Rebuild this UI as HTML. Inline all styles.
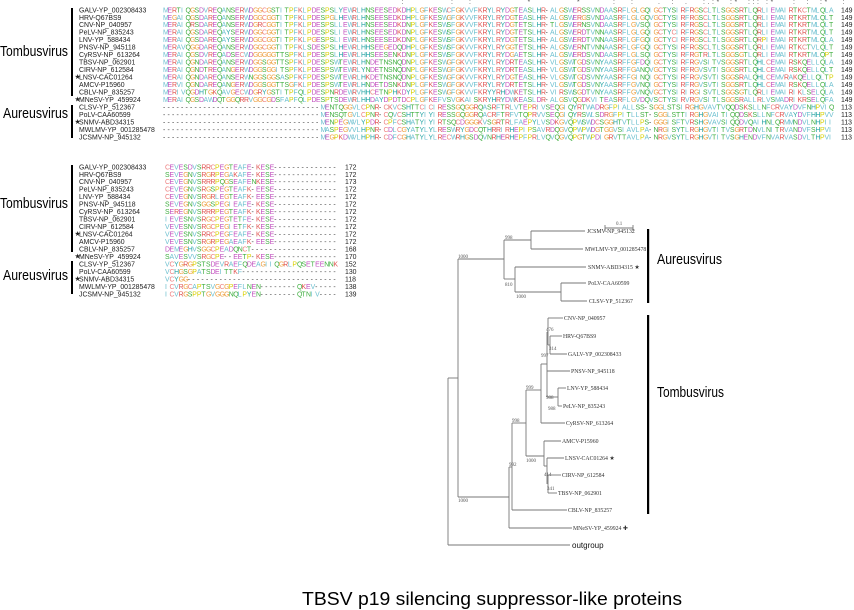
<!DOCTYPE html>
<html><head><meta charset="utf-8">
<style>
html,body{margin:0;padding:0;background:#fff;}
svg{display:block}
.nm{font-family:"Liberation Sans",sans-serif;font-size:6.9px;fill:#222}
.sq{font-family:"Liberation Sans",sans-serif;font-size:6.9px}
.grp{font-family:"Liberation Sans",sans-serif;font-size:15px;fill:#000}
.tl{font-family:"Liberation Serif",serif;font-size:5.8px;fill:#333}
.bs{font-family:"Liberation Serif",serif;font-size:5px;fill:#555}
.tr line{stroke:#777;stroke-width:0.9}
</style></head><body>
<svg id="s" width="854" height="610" viewBox="0 0 854 610" xmlns="http://www.w3.org/2000/svg">
<g id="aln"></g>
<text class="grp" x="0" y="56" textLength="68" lengthAdjust="spacingAndGlyphs">Tombusvirus</text>
<text class="grp" x="3" y="118" textLength="65" lengthAdjust="spacingAndGlyphs">Aureusvirus</text>
<text class="grp" x="0" y="208" textLength="68" lengthAdjust="spacingAndGlyphs">Tombusvirus</text>
<text class="grp" x="3" y="280" textLength="65" lengthAdjust="spacingAndGlyphs">Aureusvirus</text>
<rect x="71" y="8" width="2" height="88" fill="#000"/>
<rect x="71" y="105" width="2" height="33" fill="#000"/>
<rect x="71" y="165" width="2" height="87" fill="#000"/>
<rect x="71" y="261" width="2" height="33" fill="#000"/>
<g class="tr">
<line x1="531" y1="231" x2="585" y2="231"/><line x1="531" y1="249" x2="583" y2="249"/><line x1="531" y1="231" x2="531" y2="249"/>
<line x1="515" y1="267" x2="586" y2="267"/><line x1="561" y1="283" x2="586" y2="283"/><line x1="561" y1="301" x2="587" y2="301"/>
<line x1="561" y1="283" x2="561" y2="301"/><line x1="515" y1="292" x2="561" y2="292"/><line x1="515" y1="267" x2="515" y2="292"/>
<line x1="504" y1="240" x2="531" y2="240"/><line x1="504" y1="279" x2="515" y2="279"/><line x1="504" y1="240" x2="504" y2="279"/>
<line x1="458" y1="259" x2="504" y2="259"/><line x1="458" y1="259" x2="458" y2="497"/>
<line x1="558" y1="318" x2="563" y2="318"/><line x1="550" y1="336" x2="562" y2="336"/><line x1="550" y1="354" x2="567" y2="354"/>
<line x1="550" y1="336" x2="550" y2="354"/><line x1="548" y1="345" x2="550" y2="345"/><line x1="548" y1="318" x2="548" y2="345"/><line x1="548" y1="318" x2="558" y2="318"/>
<line x1="547" y1="371" x2="570" y2="371"/><line x1="558" y1="388" x2="566" y2="388"/><line x1="558" y1="406" x2="562" y2="406"/><line x1="558" y1="388" x2="558" y2="406"/>
<line x1="547" y1="397" x2="558" y2="397"/><line x1="547" y1="332" x2="547" y2="397"/><line x1="547" y1="332" x2="548" y2="332"/>
<line x1="541" y1="364" x2="547" y2="364"/><line x1="541" y1="364" x2="541" y2="423"/><line x1="541" y1="423" x2="565" y2="423"/>
<line x1="526" y1="390" x2="541" y2="390"/><line x1="526" y1="390" x2="526" y2="456"/>
<line x1="526" y1="456" x2="544" y2="456"/><line x1="544" y1="441" x2="544" y2="466"/><line x1="544" y1="441" x2="561" y2="441"/>
<line x1="547" y1="458" x2="564" y2="458"/><line x1="548" y1="475" x2="561" y2="475"/><line x1="548" y1="493" x2="557" y2="493"/>
<line x1="547" y1="458" x2="547" y2="484"/><line x1="548" y1="475" x2="548" y2="493"/><line x1="544" y1="466" x2="547" y2="466"/>
<line x1="512" y1="423" x2="526" y2="423"/><line x1="512" y1="423" x2="512" y2="510"/><line x1="512" y1="510" x2="567" y2="510"/>
<line x1="509" y1="467" x2="512" y2="467"/><line x1="509" y1="467" x2="509" y2="528"/><line x1="509" y1="528" x2="572" y2="528"/>
<line x1="458" y1="497" x2="509" y2="497"/>
<line x1="448" y1="378" x2="458" y2="378"/><line x1="448" y1="378" x2="448" y2="545"/><line x1="448" y1="545" x2="570" y2="545"/>
<line x1="605" y1="228" x2="633" y2="228"/><line x1="605" y1="225" x2="605" y2="231"/><line x1="633" y1="225" x2="633" y2="231"/>
</g>
<text class="bs" x="616" y="225">0.1</text>
<text class="tl" x="587" y="233">JCSMV-NP_945132</text>
<text class="tl" x="585" y="251">MWLMV-YP_001285478</text>
<text class="tl" x="588" y="269">SNMV-ABD34315 ★</text>
<text class="tl" x="588" y="285">PoLV-CAA60599</text>
<text class="tl" x="589" y="303">CLSV-YP_512367</text>
<text class="tl" x="564" y="320">CNV-NP_040957</text>
<text class="tl" x="563" y="338">HRV-Q67BS9</text>
<text class="tl" x="568" y="356">GALV-YP_002308433</text>
<text class="tl" x="571" y="373">PNSV-NP_945118</text>
<text class="tl" x="567" y="390">LNV-YP_588434</text>
<text class="tl" x="563" y="408">PeLV-NP_835243</text>
<text class="tl" x="566" y="425">CyRSV-NP_613264</text>
<text class="tl" x="562" y="443">AMCV-P15960</text>
<text class="tl" x="565" y="460">LNSV-CAC01264 ★</text>
<text class="tl" x="562" y="477">CIRV-NP_612584</text>
<text class="tl" x="558" y="495">TBSV-NP_062901</text>
<text class="tl" x="568" y="512">CBLV-NP_835257</text>
<text class="tl" x="573" y="530">MNeSV-YP_459924 ✚</text>
<text x="572" y="548" style="font-family:'Liberation Sans',sans-serif;font-size:8px;fill:#111">outgroup</text>
<text class="bs" x="505" y="239">998</text><text class="bs" x="458" y="258">1000</text>
<text class="bs" x="505" y="286">810</text><text class="bs" x="516" y="298">1000</text>
<text class="bs" x="546" y="331">476</text><text class="bs" x="549" y="350">314</text><text class="bs" x="541" y="357">997</text>
<text class="bs" x="526" y="389">999</text><text class="bs" x="546" y="399">988</text><text class="bs" x="548" y="410">988</text>
<text class="bs" x="512" y="422">998</text><text class="bs" x="526" y="462">1000</text><text class="bs" x="509" y="466">992</text>
<text class="bs" x="544" y="476">414</text><text class="bs" x="547" y="490">341</text><text class="bs" x="458" y="502">1000</text>
<rect x="647" y="229" width="2.2" height="74" fill="#000"/>
<rect x="647" y="315" width="2.2" height="199" fill="#000"/>
<text class="grp" x="657" y="264" textLength="65" lengthAdjust="spacingAndGlyphs">Aureusvirus</text>
<text class="grp" x="657" y="397" textLength="67" lengthAdjust="spacingAndGlyphs">Tombusvirus</text>
<text x="302" y="605" textLength="380" lengthAdjust="spacingAndGlyphs" style="font-family:'Liberation Sans',sans-serif;font-size:18px;fill:#000">TBSV p19 silencing suppressor-like proteins</text>
</svg>
<script>
(function(){
var names=["GALV-YP_002308433","HRV-Q67BS9","CNV-NP_040957","PeLV-NP_835243","LNV-YP_588434","PNSV-NP_945118","CyRSV-NP_613264","TBSV-NP_062901","CIRV-NP_612584","*LNSV-CAC01264","AMCV-P15960","CBLV-NP_835257","*MNeSV-YP_459924","CLSV-YP_512367","PoLV-CAA60599","*SNMV-ABD34315","MWLMV-YP_001285478","JCSMV-NP_945132"];
var D="-----------------------------------";
var seqTop=["MERTIQGSDVREQANSERWDGGCGSTITPFKLPDESPSLYEWRLHNSEESEDKDHPLGFKESWCFGKVVFKRYLRYDGTEASLHR-ALGSWERSSVNDAASRFLGLGQIGCTYSIRFRGSCLTLSGGSRTLQRLIEMAIRTKCTMLQLAP",
"MEGAIQGSDAREQANSERWDGGCGGTITPFKLPDESPGLHEWRLHNSEESEDKDHPLGFKESWGFGKVVFKRYLRYDGTEASLHR-ALGSWERGSVNDAASRFLGLGQVGCTYSIRFRGSCLTLSGGSRTLQRLIEMAIRTKRTMLQLTP",
"MERAIQRSDAREQANSERWDGRCGGTITPFKLPDESPSLLEWRLHNSEESEDKDNPLGFKESWSFGKVVFKRYLRYDGTETSLHR-TLGSWERNSVNDAASRFLGVSQIGCTYSIRFRGSCLTLSGGSRTLQRLIEMAIRTKRTMLQLTP",
"MERAIQGSDAREQAYSERWDGGCGGTITPFKLPDESPSLIEWRLHNSEESEDKDNPLGFKESWSFGKVVFKRYLRYDGTETSLHR-ALGSWERDTVNNAASRFLGLGQIGCTYCIRFRGSCLTLSGGSRTLQRLIEMAIRTKRTMLQLTP",
"MERAIQGSDAREQAYSERWDGGCGGTITPFKLPGESPSLIEWRLHNSEESEDKDNPLGFKESWSFGKVVFKRYLRYDGTETSLHR-ALGSWERDTVNNAASRFLGFGQIGCTYCIRFRGSCLTLSGGSRTLQRPIEMAIRTKRTMLQLAP",
"MERAVQGGDAREQANSERWDGGCGGTITPFKLSDESPSLHEWRLHHSEEGEDQDHPLGFKESWSFGKVVFKRYLRYGGTETSLHR-ALGSWERNTVNNAASRFLGFGQIGCTYSIRFRGSCLTLSGGSRTLQRLIEMAIRTKCTVLQLTP",
"MERAIQGSDVREQADSECWDGGGGGTTSPFKLPDESPSLHEWRLHHSEESENKDNPLGFKESWSFGKVVFKRYLRYDGAETSLHR-ALGSWERDSVNDAASRFLGLSQIGCTYSIRFRGTRLTLSGGSGTLQRLIEMAIRTKRTMLQPTP",
"MERAIQGNDAREQANSERWDGGSGGTTSPFKLPDESPSWTEWRLHNDETNSNQDNPLGFKESWGFGKVVFKRYLRYDRTEASLHR-VLGSWTGDSVNYAASRFFGFDQIGCTYSIRFRGVSITVSGGSRTLQHLCEMAIRSKQELLQLAP",
"MERAIQGNDTREQANGERWDGGSGGITSPFKLPDESPSWTEWRLYNDETNSNQDNPLGFKESWGFGKVVFKRYLRYDRTEASLHR-VLGSWTGDSVNYAASRFFGANQVGCTYSIRFRGVSVTISGGSRTLQHLCEMAIRSKQELLQLTP",
"MERAIQGNDAREQANSERWNGGSGGSASPFKFPDESPSWTEWRLHKDETNSNQDNPLGFKESWGFGKVVFKRYLRYDGTEASLHR-VLGSWTGDSVNYAASRFFGINQIGCTYSIRFRGVSVTISGGSRALQHLCEMVRAKQELLQLTP",
"MERVIQGNDAREQANGERWDGGSGGTTSGFKLPDESPSWTEWRLHNDETDSNKDNPLGFKESWGFGKVVFKRYLRYDRTETSLHR-VLGSWTGDSVNYAASRFFGVNQIGCTYSIRFRGVSVTISGGSRTLQHLCEMAIRSKQELLQLAP",
"MERIVQGDHTGKQAVGECWDGRYGSTITPFQLPDESPNRDEWRVHHCETNPHKDYPLGFKESWGFGKVVFKRYYRHDWKETSLHR-VIRSWSGDTVNYAASRFFGVNQVGCTYSIRIRGISVTLSGGSGTLQRLIEMAIRIKLSELQLAS",
"MERAIQGSDAWDQTGGQRRVGGCGDSFAPFQLPDESPTSDEWRLHHDAYDPDTDCPLGFKEFVSVGKAISKRYHRYDWKEASLDR-ALGSVQGDKVITEASRFLGVDQVSCTYSIRVRGVSITLSGGSRALLRLVSMADRIKRSELQFAT",
D+"MENTQGGVLCPNR-CKVCSHTTCICIRESSGQGGRQASRFTRLVTEPRIVSEQGIQYRTWADRGFPIALLSS-SGGLSTSIRGHGVAVTVQQDSKSLLNFCRVAYDVFNHPVIQSE",
D+"MENSQTGVLCPNR-CQVCSHTTYIYIRESSGQGGRQACRFTRFVTQPRVVSEQGIQYRSWLSDRGFPITLLST-SGGLSTTIRGHGVAITIQQDSKSLLNFCRVAYDVFHHPVVQSE",
D+"MENPEGWVLYPDR-CPFCSHATYIYIRTSQCDGGGKVSGRTRLFAEPYLVSDKGVQPWSWDCSGGHTVTLLPS-GGGISFTVRSHGVAVSIQQDVQAIHNLQRMMNDVLNHPIIQQK",
D+"MASPEGVVLHPNR-CDLCGYATYLYLRESWRYGDCQTHRRIRHEPIPSAVRDQGVQPWPWDGTGGVSIAVLPA-NRGISYTLRGHGVTITVSGRTDNVLNITRVANDVFSHPVIQGS",
D+"MEGPKDWVLHPHR-CDFCGHATYLYLRECWRHGSDQVNRHERHEPFPRLVQVQGVQPGTWPDIGRVTTAVLPA-NRGVSYTLRGHGVTITVSGHENDVFNVARVASDVLTHPVIQQE"];
var seqBot=["CEVESDVSRRCPEGTEAFE-KESE","SEVEGNVSRGRPEGAKAFE-KESE","CEVEGNVSRRRPQGSEAFENKESE","CEVEGNVSRGSPEGTEAFK-EESE","CEVEGNVSRGRLEGTEAFK-EESE","SEVEGNVSGGSPEGIEAFE-KESE","SEREGNVSRRRPEGTEAFK-KESE","IEVESNVSRGCPEGTETFE-KESE","VEVESNVSRGCPEGIETFK-KESE","VEVESNVSRRCPEGFEAFE-KESE","VEVESNVSRGRPEGAEAFK-EESE","DEMEGHVSGGCPEADQNCT-","SAVESVVSRGCPE--EETP-KESE","VCYGRGPSTSDEVRAEFQDEAGIIQGRLPQSETEENNKT","VCHGSGPATSDEITTKF-","VCYGG-","ICVRGCAPTSVGCGPEFLNEN--------QKEV-----","ICVRGSPPTGVGGGNQLPYEN--------QTNIV----"];
var tn=[149,149,149,149,149,149,149,149,149,149,149,149,149,113,113,113,113,113];
var bn=[172,172,173,172,172,172,172,172,172,172,172,168,170,152,130,118,138,139];
function col(c){if("AILMFWV".indexOf(c)>=0)return"#6bbfcf";if("KR".indexOf(c)>=0)return"#e0524f";if("ED".indexOf(c)>=0)return"#c24fbf";if("NQST".indexOf(c)>=0)return"#3fae3f";if(c=="G")return"#eea040";if(c=="P")return"#d8d000";if("HY".indexOf(c)>=0)return"#22a3a3";if(c=="C")return"#ee8080";return"#555";}
var NS="http://www.w3.org/2000/svg",g=document.getElementById("aln");
function t(x,y,s,cls,fill){var e=document.createElementNS(NS,"text");e.setAttribute("x",x);e.setAttribute("y",y);e.setAttribute("class",cls);if(fill)e.setAttribute("fill",fill);e.textContent=s;g.appendChild(e);return e;}
function block(y0,seqs,nums,len,x0,step,nx){
 for(var r=0;r<18;r++){var y=y0+r*7.47;var n=names[r];
  if(n[0]=="*"){t(74.5,y+2,"★","nm");n=n.slice(1);}
  t(79,y+2.3,n,"nm");
  var s=seqs[r];while(s.length<len)s+="-";s=s.slice(0,len);
  var e=document.createElementNS(NS,"text");e.setAttribute("y",y+2.3);e.setAttribute("class","sq");
  var xs=[];for(var i=0;i<len;i++)xs.push((x0+i*step).toFixed(2));
  e.setAttribute("x",xs.join(" "));
  for(var i=0;i<len;i++){var sp=document.createElementNS(NS,"tspan");var c=s[i];sp.setAttribute("fill",c=="-"?"#444":col(c));sp.textContent=c;e.appendChild(sp);}
  g.appendChild(e);
  t(nx,y+2.3,String(nums[r]),"nm");
 }}
block(10,seqTop,tn,149,163,4.5,841);
block(167,seqBot,bn,38,165,4.55,345);
var cons=" :          :   :            *          *       :   :     .  :  .   :.:*  :*  ::: :*    :  :  :*   :   ";
var ce=t(0,4,"","sq","#555");
var xs=[],str="";for(var i=0;i<cons.length;i++){if(cons[i]!=" "){xs.push((163+(i+52)*4.5).toFixed(2));str+=cons[i];}}
ce.setAttribute("x",xs.join(" "));ce.textContent=str;
})();
</script>
</body></html>
